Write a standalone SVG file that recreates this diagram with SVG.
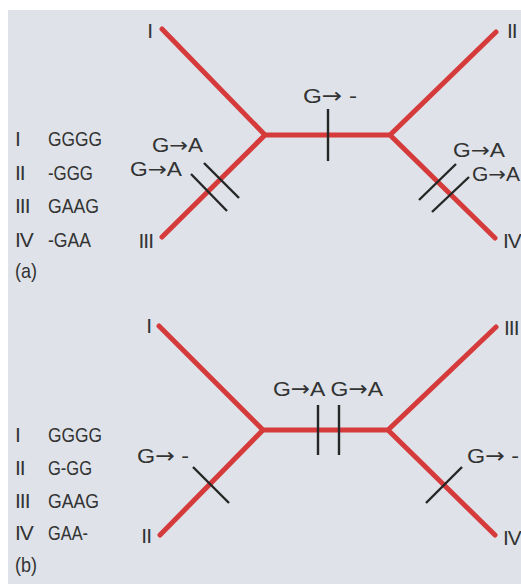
<svg xmlns="http://www.w3.org/2000/svg" width="521" height="584" viewBox="0 0 521 584">
<style>
.bg{fill:#dfe3e9}
.br{fill:none;stroke:#d63b3c;stroke-width:5;stroke-linecap:round;stroke-linejoin:miter}
.tk{stroke:#262626;stroke-width:2.4;stroke-linecap:butt}
text{font-family:"Liberation Sans",Arial,sans-serif;font-size:21px;fill:#333333}
.ar{font-family:"DejaVu Sans",sans-serif;font-weight:normal}
.e{text-anchor:end}
.n{letter-spacing:-1px}
.m{font-size:20px}
</style>
<rect x="0" y="0" width="521" height="584" fill="#ffffff"/>
<rect class="bg" x="8" y="10" width="513" height="574"/>

<!-- Panel (a) -->
<g id="list-a">
  <text x="15" y="146">I</text><text x="48" y="146" textLength="54" lengthAdjust="spacingAndGlyphs">GGGG</text>
  <text class="n" x="15" y="180">II</text><text x="48" y="180" textLength="45" lengthAdjust="spacingAndGlyphs">-GGG</text>
  <text class="n" x="15" y="213">III</text><text x="48" y="213" textLength="51" lengthAdjust="spacingAndGlyphs">GAAG</text>
  <text class="n" x="15" y="247">IV</text><text x="48" y="247" textLength="43" lengthAdjust="spacingAndGlyphs">-GAA</text>
  <text x="15" y="278" textLength="22" lengthAdjust="spacingAndGlyphs">(a)</text>
</g>
<g id="a-leaf-I"><text class="e" x="153" y="38">I</text></g>
<g id="a-leaf-III"><text class="e n" x="153" y="248">III</text></g>
<g id="a-leaf-II"><text class="n" x="507" y="38">II</text></g>
<g id="a-leaf-IV"><text class="n" x="503" y="248">IV</text></g>
<g id="a-connectors">
  <path class="br" d="M162,29 L265,135 L162,237 M265,135 L390,135 M496,32 L390,135 L495,238"/>
  <line class="tk" x1="328" y1="109" x2="328" y2="161"/>
  <line class="tk" x1="191" y1="174" x2="227" y2="211"/>
  <line class="tk" x1="204" y1="163" x2="239" y2="198"/>
  <line class="tk" x1="419" y1="200" x2="456" y2="164"/>
  <line class="tk" x1="432" y1="212" x2="469" y2="177"/>
  <text x="303" y="103" textLength="54" lengthAdjust="spacingAndGlyphs">G<tspan class="ar">→</tspan> -</text>
  <text class="m" x="152" y="152" textLength="51" lengthAdjust="spacingAndGlyphs">G<tspan class="ar">→</tspan>A</text>
  <text class="m" x="130" y="176" textLength="52" lengthAdjust="spacingAndGlyphs">G<tspan class="ar">→</tspan>A</text>
  <text class="m" x="453" y="157" textLength="52" lengthAdjust="spacingAndGlyphs">G<tspan class="ar">→</tspan>A</text>
  <text class="m" x="472" y="181" textLength="48" lengthAdjust="spacingAndGlyphs">G<tspan class="ar">→</tspan>A</text>
</g>

<!-- Panel (b) -->
<g id="list-b">
  <text x="15" y="442">I</text><text x="48" y="442" textLength="54" lengthAdjust="spacingAndGlyphs">GGGG</text>
  <text class="n" x="15" y="475">II</text><text x="48" y="475" textLength="44" lengthAdjust="spacingAndGlyphs">G-GG</text>
  <text class="n" x="15" y="508">III</text><text x="48" y="508" textLength="51" lengthAdjust="spacingAndGlyphs">GAAG</text>
  <text class="n" x="15" y="540">IV</text><text x="48" y="540" textLength="40" lengthAdjust="spacingAndGlyphs">GAA-</text>
  <text x="15" y="572" textLength="22" lengthAdjust="spacingAndGlyphs">(b)</text>
</g>
<g id="b-leaf-I"><text class="e" x="152" y="333">I</text></g>
<g id="b-leaf-II"><text class="e n" x="151" y="543">II</text></g>
<g id="b-leaf-III"><text class="n" x="504" y="335">III</text></g>
<g id="b-leaf-IV"><text class="n" x="503" y="545">IV</text></g>
<g id="b-connectors">
  <path class="br" d="M159,326 L263,430 L160,535 M263,430 L388,430 M496,327 L388,430 L495,535"/>
  <line class="tk" x1="318" y1="405" x2="318" y2="455"/>
  <line class="tk" x1="339" y1="405" x2="339" y2="455"/>
  <line class="tk" x1="193" y1="467" x2="229" y2="503"/>
  <line class="tk" x1="426" y1="503" x2="462" y2="467"/>
  <text x="273" y="396" textLength="110" lengthAdjust="spacingAndGlyphs">G<tspan class="ar">→</tspan>A G<tspan class="ar">→</tspan>A</text>
  <text x="137" y="463" textLength="52" lengthAdjust="spacingAndGlyphs">G<tspan class="ar">→</tspan> -</text>
  <text x="467" y="463" textLength="52" lengthAdjust="spacingAndGlyphs">G<tspan class="ar">→</tspan> -</text>
</g>
</svg>
